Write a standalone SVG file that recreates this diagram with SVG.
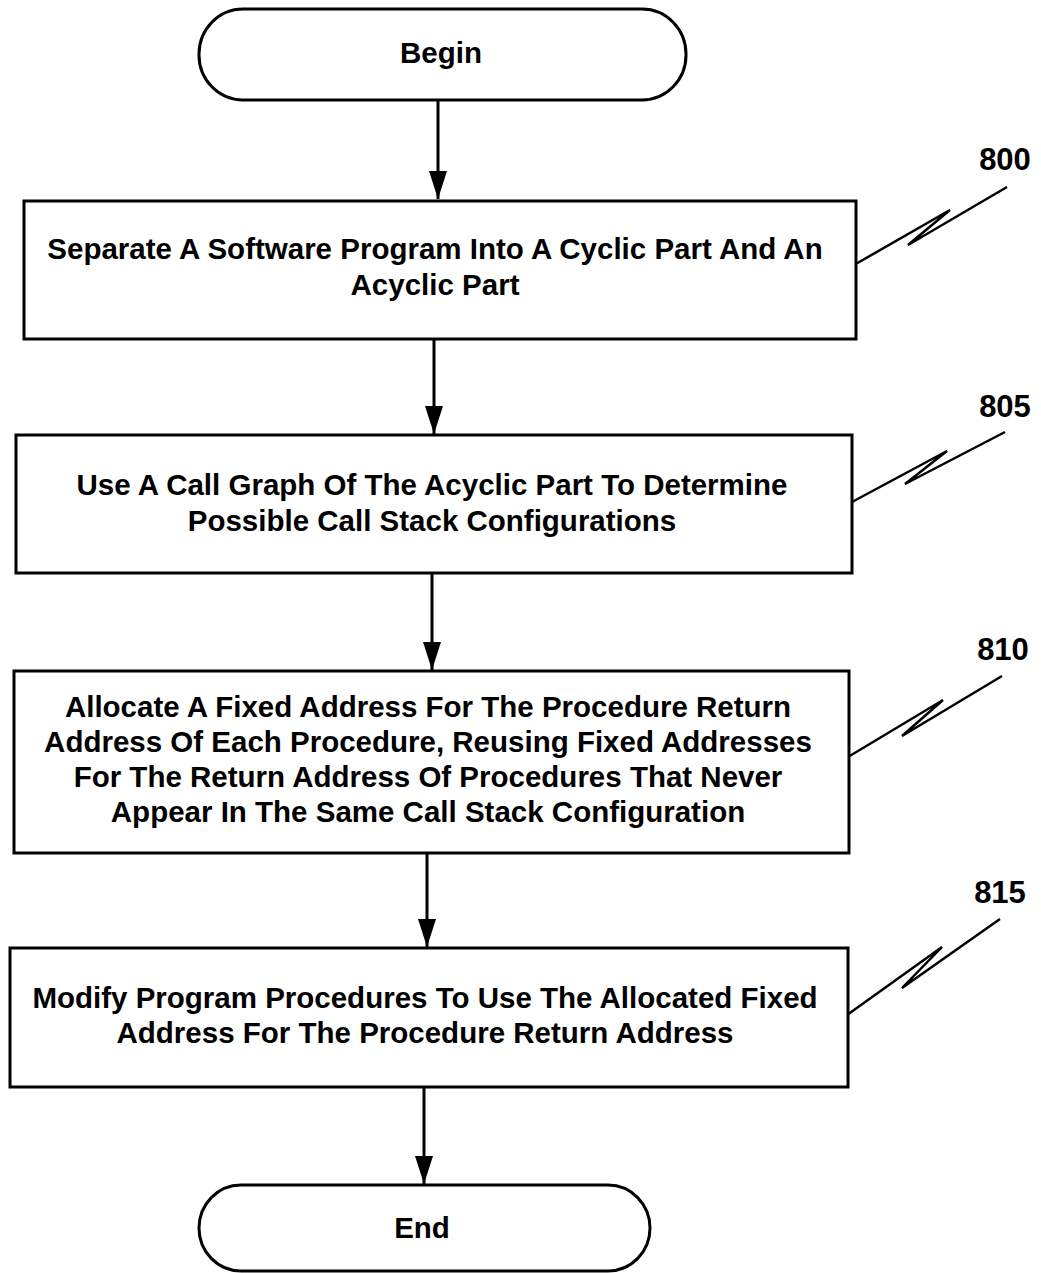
<svg xmlns="http://www.w3.org/2000/svg" width="1041" height="1273" viewBox="0 0 1041 1273">
<style>
.box{fill:#fff;stroke:#000;stroke-width:3}
.t{font-family:"Liberation Sans",Arial,sans-serif;font-weight:bold;font-size:29.5px;fill:#000;text-anchor:middle}
.lbl{font-family:"Liberation Sans",Arial,sans-serif;font-weight:bold;font-size:31px;fill:#000;text-anchor:middle}
.lead{stroke:#000;stroke-width:2.5;fill:none;stroke-linejoin:miter}
</style>
<defs>
<marker id="ah2" markerUnits="userSpaceOnUse" markerWidth="30" markerHeight="20" refX="28" refY="10" orient="auto" viewBox="0 0 30 20">
<path d="M0,1 L28,10 L0,19 Z" fill="#000"/>
</marker>
</defs>
<rect width="1041" height="1273" fill="#fff"/>
<g id="connectors">
<line x1="438" y1="100" x2="438" y2="199" stroke="#000" stroke-width="3" marker-end="url(#ah2)"/>
<line x1="434" y1="340" x2="434" y2="434" stroke="#000" stroke-width="3" marker-end="url(#ah2)"/>
<line x1="432" y1="573" x2="432" y2="670" stroke="#000" stroke-width="3" marker-end="url(#ah2)"/>
<line x1="427" y1="853" x2="427" y2="947" stroke="#000" stroke-width="3" marker-end="url(#ah2)"/>
<line x1="424" y1="1087" x2="424" y2="1184" stroke="#000" stroke-width="3" marker-end="url(#ah2)"/>
<path class="lead" d="M854,265 L950,210 L908,245 L1007,187"/>
<path class="lead" d="M852,502 L947,451 L905,484 L1005,432"/>
<path class="lead" d="M848,757 L943,700 L902,736 L1002,676"/>
<path class="lead" d="M847,1015 L942,947 L902,988 L1000,919"/>
</g>
<g id="begin">
<rect class="box" x="199" y="9" width="487" height="91" rx="44" ry="45"/>
<text class="t" x="441" y="63" font-size="26">Begin</text>
</g>
<g id="n800">
<rect class="box" x="24" y="201" width="832" height="138"/>
<text class="t" x="435" y="259">Separate A Software Program Into A Cyclic Part And An</text>
<text class="t" x="435" y="295">Acyclic Part</text>
<text class="lbl" x="1005" y="170">800</text>
</g>
<g id="n805">
<rect class="box" x="16" y="435" width="836" height="138"/>
<text class="t" x="432" y="495">Use A Call Graph Of The Acyclic Part To Determine</text>
<text class="t" x="432" y="531">Possible Call Stack Configurations</text>
<text class="lbl" x="1005" y="417">805</text>
</g>
<g id="n810">
<rect class="box" x="14" y="671" width="835" height="182"/>
<text class="t" x="428" y="717">Allocate A Fixed Address For The Procedure Return</text>
<text class="t" x="428" y="752">Address Of Each Procedure, Reusing Fixed Addresses</text>
<text class="t" x="428" y="787">For The Return Address Of Procedures That Never</text>
<text class="t" x="428" y="822">Appear In The Same Call Stack Configuration</text>
<text class="lbl" x="1003" y="660">810</text>
</g>
<g id="n815">
<rect class="box" x="10" y="948" width="838" height="139"/>
<text class="t" x="425" y="1008">Modify Program Procedures To Use The Allocated Fixed</text>
<text class="t" x="425" y="1043">Address For The Procedure Return Address</text>
<text class="lbl" x="1000" y="903">815</text>
</g>
<g id="end">
<rect class="box" x="199" y="1185" width="451" height="86" rx="42" ry="43"/>
<text class="t" x="422" y="1238" font-size="26">End</text>
</g>
</svg>
